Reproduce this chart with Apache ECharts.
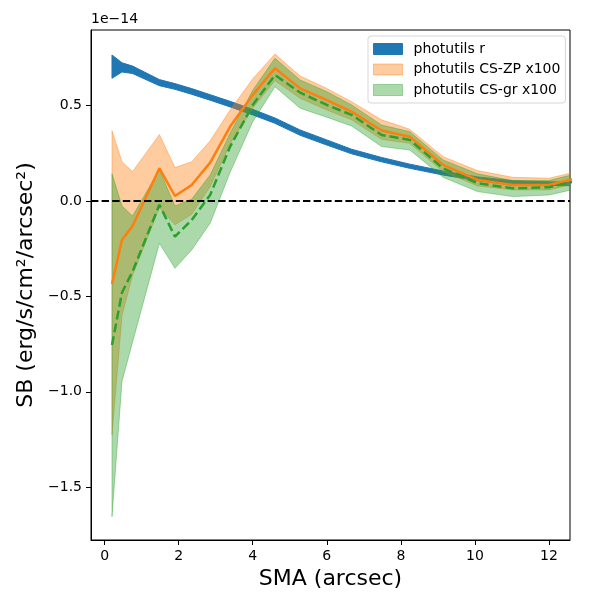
<!DOCTYPE html>
<html>
<head>
<meta charset="utf-8">
<script src="https://cdn.jsdelivr.net/npm/echarts@6/dist/echarts.min.js"></script>
<style>
html,body{margin:0;padding:0;background:#fff}
#c1{width:600px;height:600px}
</style>
</head>
<body>
<div id="c1"></div>
<script>
// SB profiles, units of 1e-14
var sma    = [0.2, 0.47, 0.755, 1.48, 1.9, 2.35, 2.85, 3.39, 4.0, 4.6, 5.28, 6.0, 6.67, 7.48, 8.24, 9.14, 10.07, 11.02, 12.0, 13.1];

var r_lo   = [0.643, 0.676, 0.668, 0.604, 0.585, 0.559, 0.528, 0.493, 0.451, 0.407, 0.344, 0.293, 0.247, 0.205, 0.171, 0.136, 0.106, 0.086, 0.081, 0.079];
var r_hi   = [0.765, 0.724, 0.707, 0.636, 0.615, 0.589, 0.557, 0.522, 0.480, 0.435, 0.372, 0.320, 0.271, 0.228, 0.193, 0.157, 0.126, 0.106, 0.100, 0.098];

var zp_mid = [-0.435, -0.204, -0.131, 0.171, 0.026, 0.084, 0.201, 0.390, 0.556, 0.695, 0.590, 0.529, 0.468, 0.369, 0.337, 0.189, 0.110, 0.084, 0.084, 0.137];
var zp_hi  = [0.368, 0.205, 0.154, 0.348, 0.175, 0.205, 0.315, 0.477, 0.640, 0.770, 0.655, 0.590, 0.520, 0.425, 0.376, 0.232, 0.159, 0.124, 0.119, 0.170];
var zp_lo  = [-1.226, -0.600, -0.390, -0.035, -0.125, -0.070, 0.075, 0.300, 0.486, 0.631, 0.538, 0.477, 0.425, 0.323, 0.302, 0.154, 0.079, 0.058, 0.058, 0.110];

var gr_mid = [-0.755, -0.480, -0.370, -0.020, -0.187, -0.100, 0.031, 0.285, 0.503, 0.660, 0.568, 0.503, 0.451, 0.346, 0.320, 0.171, 0.093, 0.066, 0.072, 0.120];
var gr_hi  = [0.142, -0.026, -0.079, 0.164, -0.026, 0.009, 0.136, 0.355, 0.580, 0.748, 0.634, 0.573, 0.503, 0.398, 0.363, 0.215, 0.142, 0.107, 0.107, 0.160];
var gr_lo  = [-1.655, -0.945, -0.740, -0.222, -0.353, -0.257, -0.117, 0.150, 0.415, 0.599, 0.486, 0.439, 0.393, 0.285, 0.267, 0.124, 0.049, 0.023, 0.031, 0.080];

var x_ticks = [0, 2, 4, 6, 8, 10, 12];
var y_ticks = [-1.5, -1.0, -0.5, 0.0, 0.5];

var FONT = 'DejaVu Sans';
var c_blue = '#1f77b4', c_orange = '#ff7f0e', c_green = '#2ca02c';
var a_orange = 'rgba(255,127,14,0.4)', a_green = 'rgba(44,160,44,0.4)';

function pairs(ys) {
    return sma.map(function (x, i) { return [x, ys[i]]; });
}

// filled band between lo and hi, drawn as one polygon through the axes
function band(name, lo, hi, color) {
    return {
        name: name, type: 'custom', clip: true,
        data: sma.map(function (x, i) { return [x, lo[i], hi[i]]; }),
        encode: {x: 0, y: [1, 2]},
        itemStyle: {color: color},
        renderItem: function (params, api) {
            if (params.dataIndex !== 0) return null;
            var pts = [], i;
            for (i = 0; i < sma.length; i++) pts.push(api.coord([sma[i], hi[i]]));
            for (i = sma.length - 1; i >= 0; i--) pts.push(api.coord([sma[i], lo[i]]));
            return {
                type: 'polygon', shape: {points: pts},
                style: {fill: color, stroke: color, lineWidth: 1}
            };
        }
    };
}

var series = [
    band('photutils r', r_lo, r_hi, c_blue),
    band('photutils CS-ZP x100', zp_lo, zp_hi, a_orange),
    band('photutils CS-gr x100', gr_lo, gr_hi, a_green),
    {
        name: 'zp_line', type: 'line', data: pairs(zp_mid), symbol: 'none',
        lineStyle: {color: c_orange, width: 2.5}
    },
    {
        name: 'gr_line', type: 'line', data: pairs(gr_mid), symbol: 'none',
        lineStyle: {color: c_green, width: 2.5, type: [9, 4]},
        markLine: {
            silent: true, symbol: 'none', animation: false,
            label: {show: false},
            lineStyle: {color: '#000', width: 2, type: [7.4, 3.2]},
            data: [{yAxis: 0}]
        }
    }
];

var chart = echarts.init(document.getElementById('c1'));
chart.setOption({
    animation: false,
    textStyle: {fontFamily: FONT},
    title: {
        text: '1e\u221214', left: 91, top: 12, padding: 0,
        textStyle: {fontSize: 14, fontWeight: 'normal', color: '#000', fontFamily: FONT}
    },
    grid: {left: 91, right: 30, top: 30, bottom: 60, show: true, borderColor: '#000', borderWidth: 1},
    legend: {
        orient: 'vertical', left: 368, top: 36,
        padding: [6, 5, 6, 5], itemGap: 6.5,
        itemWidth: 29, itemHeight: 11, icon: 'rect',
        selectedMode: false,
        backgroundColor: '#fff', borderColor: 'rgba(204,204,204,0.8)', borderWidth: 1, borderRadius: 3,
        textStyle: {fontSize: 14, lineHeight: 14, color: '#000', fontFamily: FONT, padding: [0, 0, 0, 6]},
        data: [
            {name: 'photutils r', itemStyle: {color: c_blue, borderColor: c_blue, borderWidth: 1}},
            {name: 'photutils CS-ZP x100', itemStyle: {color: a_orange, borderColor: a_orange, borderWidth: 1}},
            {name: 'photutils CS-gr x100', itemStyle: {color: a_green, borderColor: a_green, borderWidth: 1}}
        ]
    },
    xAxis: {
        type: 'value', min: -0.367, max: 12.567,
        name: 'SMA (arcsec)', nameLocation: 'middle', nameGap: 27,
        nameTextStyle: {fontSize: 22, color: '#000', fontFamily: FONT},
        axisLine: {show: true, onZero: false, lineStyle: {color: '#000', width: 1}},
        axisTick: {show: true, customValues: x_ticks, length: 5, lineStyle: {color: '#000', width: 1}},
        axisLabel: {customValues: x_ticks, margin: 9, fontSize: 14, color: '#000', fontFamily: FONT},
        splitLine: {show: false}
    },
    yAxis: {
        type: 'value', min: -1.777, max: 0.896,
        name: 'SB (erg/s/cm\u00b2/arcsec\u00b2)', nameLocation: 'middle', nameGap: 52,
        nameTextStyle: {fontSize: 22, color: '#000', fontFamily: FONT},
        axisLine: {show: true, onZero: false, lineStyle: {color: '#000', width: 1}},
        axisTick: {show: true, customValues: y_ticks, length: 5, lineStyle: {color: '#000', width: 1}},
        axisLabel: {
            customValues: y_ticks, margin: 9, fontSize: 14, color: '#000', fontFamily: FONT,
            formatter: function (v) { return (v < 0 ? '\u2212' : '') + Math.abs(v).toFixed(1); }
        },
        splitLine: {show: false}
    },
    series: series
});
</script>
</body>
</html>
